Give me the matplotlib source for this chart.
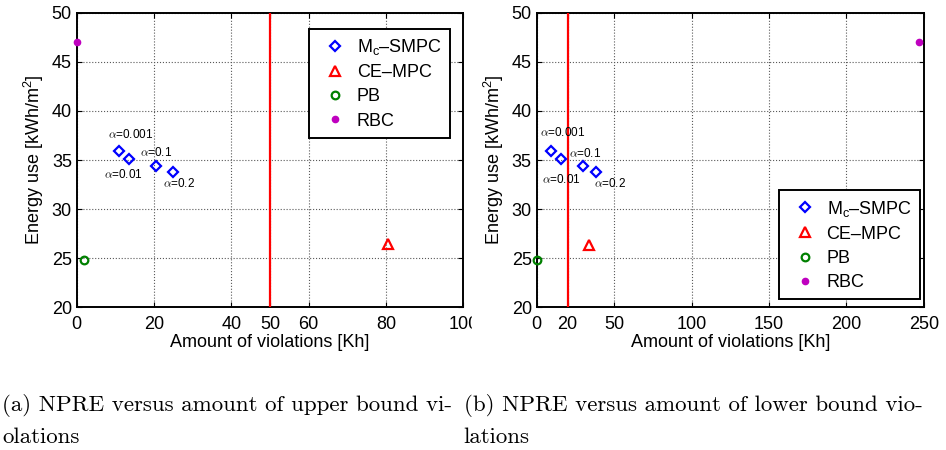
import matplotlib
matplotlib.use('Agg')
import matplotlib.pyplot as plt
from matplotlib.patches import Rectangle

plt.rcParams['font.family'] = ['Liberation Sans', 'DejaVu Sans']
plt.rcParams['mathtext.fontset'] = 'custom'
plt.rcParams['mathtext.rm'] = 'Liberation Sans'
plt.rcParams['mathtext.it'] = 'Liberation Sans:italic'

# data
alpha_labels = ['$\\alpha$=0.001', '$\\alpha$=0.01', '$\\alpha$=0.1', '$\\alpha$=0.2']

# (a) upper bound violations
up_smpc_x = [11.0, 13.4, 20.4, 24.9]
up_smpc_y = [35.95, 35.1, 34.35, 33.8]
up_ce_x = [80.6]
up_ce_y = [26.4]
up_pb_x = [2.0]
up_pb_y = [24.8]
up_rbc_x = [0.0]
up_rbc_y = [47.0]
up_limit = 50
up_xticks = [0, 20, 40, 50, 60, 80, 100]

# (b) lower bound violations
lo_smpc_x = [9.5, 15.7, 29.7, 38.1]
lo_smpc_y = [35.95, 35.1, 34.35, 33.8]
lo_ce_x = [33.6]
lo_ce_y = [26.35]
lo_pb_x = [0.0]
lo_pb_y = [24.8]
lo_rbc_x = [246.6]
lo_rbc_y = [47.0]
lo_limit = 20
lo_xticks = [0, 20, 50, 100, 150, 200, 250]

yticks = [20, 25, 30, 35, 40, 45, 50]

# label offsets in pixels from each diamond
up_offsets = [(11, 16), (-5, -15), (1, 14), (6, -12)]
lo_offsets = [(11, 18), (0, -20), (2, 13), (14, -12)]


def panel(ax, sx, sy, cx, cy, px, py, rx, ry, limit, xticks, offsets, xmax, legloc, anchor):
    ax.axvline(limit, color='r', lw=1.6, zorder=3)
    ax.plot(sx, sy, 'D', color='b', mfc='none', mew=1.6, ms=5.2, ls='none',
            label='M$_{\\rm c}$\u2013SMPC', zorder=4, clip_on=False)
    ax.plot(cx, cy, '^', color='r', mfc='none', mew=1.6, ms=7, ls='none',
            label='CE\u2013MPC', zorder=4, clip_on=False)
    ax.plot(px, py, 'o', color=(0, 0.5, 0), mfc='none', mew=1.6, ms=5.5, ls='none',
            label='PB', zorder=4, clip_on=False)
    ax.plot(rx, ry, 'o', color='m', mec='m', ms=4.5, ls='none',
            label='RBC', zorder=4, clip_on=False)
    for i in range(len(sx)):
        ax.annotate(alpha_labels[i], (sx[i], sy[i]), xytext=offsets[i],
                    textcoords='offset pixels', ha='center', va='center',
                    fontsize=8.5, math_fontfamily='cm')
    ax.set_xlim(0, xmax)
    ax.set_ylim(20, 50)
    ax.set_xticks(xticks)
    ax.set_yticks(yticks)
    ax.grid(True, ls=':', color='0.35', lw=0.8)
    ax.tick_params(direction='in', top=True, right=True, length=3.5, width=0.8,
                   labelsize=13)
    ax.tick_params(axis='x', pad=6.5)
    ax.tick_params(axis='y', pad=3.5)
    for s in ax.spines.values():
        s.set_linewidth(1.4)
    ax.set_xlabel('Amount of violations [Kh]', fontsize=13)
    ax.set_ylabel('Energy use [kWh/m$^2$]', fontsize=13)
    ax.xaxis.set_label_coords(0.5, -0.09)
    ax.yaxis.set_label_coords(-0.079, 0.5)
    leg = ax.legend(loc=legloc, bbox_to_anchor=anchor, fontsize=13, handletextpad=0.2,
                    labelspacing=0.4, borderpad=0.45, fancybox=False, framealpha=1,
                    numpoints=1, borderaxespad=0)
    leg.get_frame().set_edgecolor('k')
    leg.get_frame().set_linewidth(1.4)


fig = plt.figure(figsize=(9.46, 4.5), dpi=100)
ax1 = fig.add_axes([0.0811, 0.317, 0.4087, 0.6547])
ax2 = fig.add_axes([0.5673, 0.317, 0.4094, 0.6547])

panel(ax1, up_smpc_x, up_smpc_y, up_ce_x, up_ce_y, up_pb_x, up_pb_y, up_rbc_x, up_rbc_y,
      up_limit, up_xticks, up_offsets, 100, 'upper right', (0.9656, 0.9457))
panel(ax2, lo_smpc_x, lo_smpc_y, lo_ce_x, lo_ce_y, lo_pb_x, lo_pb_y, lo_rbc_x, lo_rbc_y,
      lo_limit, lo_xticks, lo_offsets, 250, 'lower right', (0.9897, 0.0272))

# the left sub-figure was cropped through its last tick label
fig.add_artist(Rectangle((472 / 946, 1 - 336 / 450), 30 / 946, 26 / 450,
                         transform=fig.transFigure, color='w', zorder=10))

cap = dict(fontsize=16.5, family='cmr10', va='baseline')
fig.text(0.002, 0.0873, '(a) NPRE versus amount of upper bound vi-', **cap)
fig.text(0.002, 0.0156, 'olations', **cap)
fig.text(0.490, 0.0873, '(b) NPRE versus amount of lower bound vio-', **cap)
fig.text(0.490, 0.0156, 'lations', **cap)

fig.savefig('out.png', dpi=100)
